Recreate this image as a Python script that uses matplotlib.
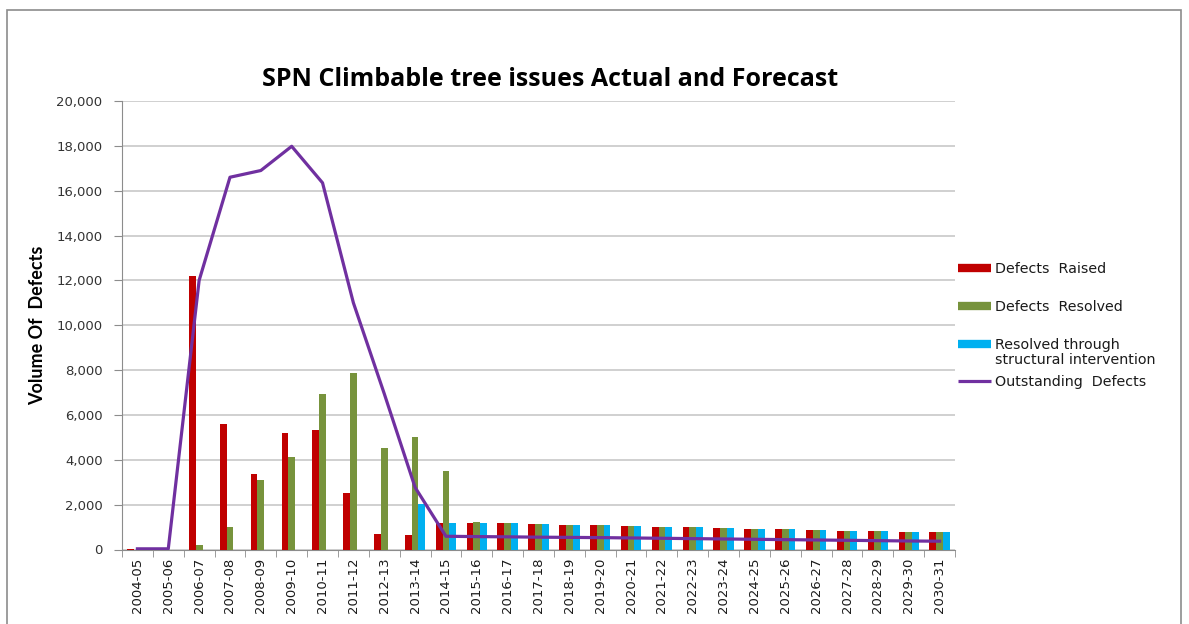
import numpy as np
import matplotlib.pyplot as plt
from matplotlib.patches import Rectangle
from matplotlib.lines import Line2D
from matplotlib.ticker import FuncFormatter, FixedLocator

years = ['2004-05', '2005-06', '2006-07', '2007-08', '2008-09', '2009-10', '2010-11',
         '2011-12', '2012-13', '2013-14', '2014-15', '2015-16', '2016-17', '2017-18',
         '2018-19', '2019-20', '2020-21', '2021-22', '2022-23', '2023-24', '2024-25',
         '2025-26', '2026-27', '2027-28', '2028-29', '2029-30', '2030-31']

raised = [40, 0, 12200, 5600, 3350, 5180, 5330, 2530, 710, 650, 1200, 1195, 1165, 1135,
          1105, 1075, 1045, 1015, 985, 955, 927, 900, 873, 847, 822, 797, 774]
resolved = [0, 0, 210, 1020, 3100, 4130, 6920, 7850, 4530, 5000, 3500, 1230, 1165, 1135,
            1105, 1075, 1045, 1015, 985, 955, 927, 900, 873, 847, 822, 797, 774]
structural = [0, 0, 0, 0, 0, 0, 0, 0, 0, 2030, 1200, 1195, 1165, 1135,
              1105, 1075, 1045, 1015, 985, 955, 927, 900, 873, 847, 822, 797, 774]
outstanding = [30, 30, 12000, 16600, 16900, 17980, 16350, 11000, 6950, 2770, 590, 575, 565,
               550, 540, 530, 515, 500, 485, 470, 455, 440, 425, 410, 395, 380, 370]

c_raised = '#C00000'
c_resolved = '#77933C'
c_struct = '#00B0F0'
c_line = '#7030A0'

W, H = 1189, 624
fig = plt.figure(figsize=(W / 100, H / 100), dpi=100)
fig.patches.append(Rectangle((7/W, -0.1), 1174/W, 1.1 - 10/H, transform=fig.transFigure,
                             fill=False, edgecolor='#8c8c8c', linewidth=1.2))

ax = fig.add_axes([122/W, 1 - 549.5/H, (955-122)/W, (549.5-101)/H])
x = np.arange(len(years))
w = 0.22
ax.bar(x - w, raised, w, color=c_raised, zorder=3)
ax.bar(x, resolved, w, color=c_resolved, zorder=3)
ax.bar(x + w, structural, w, color=c_struct, zorder=3)
ax.plot(x, outstanding, color=c_line, linewidth=2.3, zorder=4)

ax.set_xlim(-0.5, len(years) - 0.5)
ax.set_ylim(0, 20000)
ax.set_yticks(np.arange(0, 20001, 2000))
ax.yaxis.set_major_formatter(FuncFormatter(lambda v, p: f'{int(v):,}'))
ax.set_xticks(x)
ax.set_xticklabels(years, rotation=90)
ax.xaxis.set_minor_locator(FixedLocator(np.arange(-0.5, len(years), 1)))
ax.tick_params(axis='x', which='major', length=0, pad=6, labelsize=9.5, labelcolor='#1a1a1a')
ax.tick_params(axis='x', which='minor', length=5, color='#8c8c8c')
ax.tick_params(axis='y', length=6, color='#8c8c8c', labelsize=9.5, labelcolor='#333333', pad=8)
ax.grid(axis='y', color='#c8c8c8', linewidth=1.2, zorder=0)
for s in ['top', 'right']:
    ax.spines[s].set_visible(False)
for s in ['left', 'bottom']:
    ax.spines[s].set_color('#8c8c8c')

ax.set_ylabel('Volume Of  Defects', fontsize=13, fontweight='bold', family='Lato', labelpad=7)
fig.text(550/W, 1 - 80/H, 'SPN Climbable tree issues Actual and Forecast', ha='center', va='center',
         fontsize=18, fontweight='bold', family='Open Sans')

# legend drawn by hand, Excel-style spacing
leg_items = [('Defects  Raised', c_raised, 6, 268),
             ('Defects  Resolved', c_resolved, 6, 306),
             ('Resolved through\nstructural intervention', c_struct, 6, 344),
             ('Outstanding  Defects', c_line, 2.3, 381)]
for text, col, lw, yy in leg_items:
    fig.add_artist(Line2D([958/W, 991/W], [1 - yy/H, 1 - yy/H], color=col, linewidth=lw,
                          solid_capstyle='butt', transform=fig.transFigure))
    for i, line in enumerate(text.split('\n')):
        fig.text(995/W, 1 - (yy + 5 + 15 * i)/H, line, ha='left', va='baseline', fontsize=10.3,
                 color='#1a1a1a')

fig.savefig('out.png', dpi=100)
